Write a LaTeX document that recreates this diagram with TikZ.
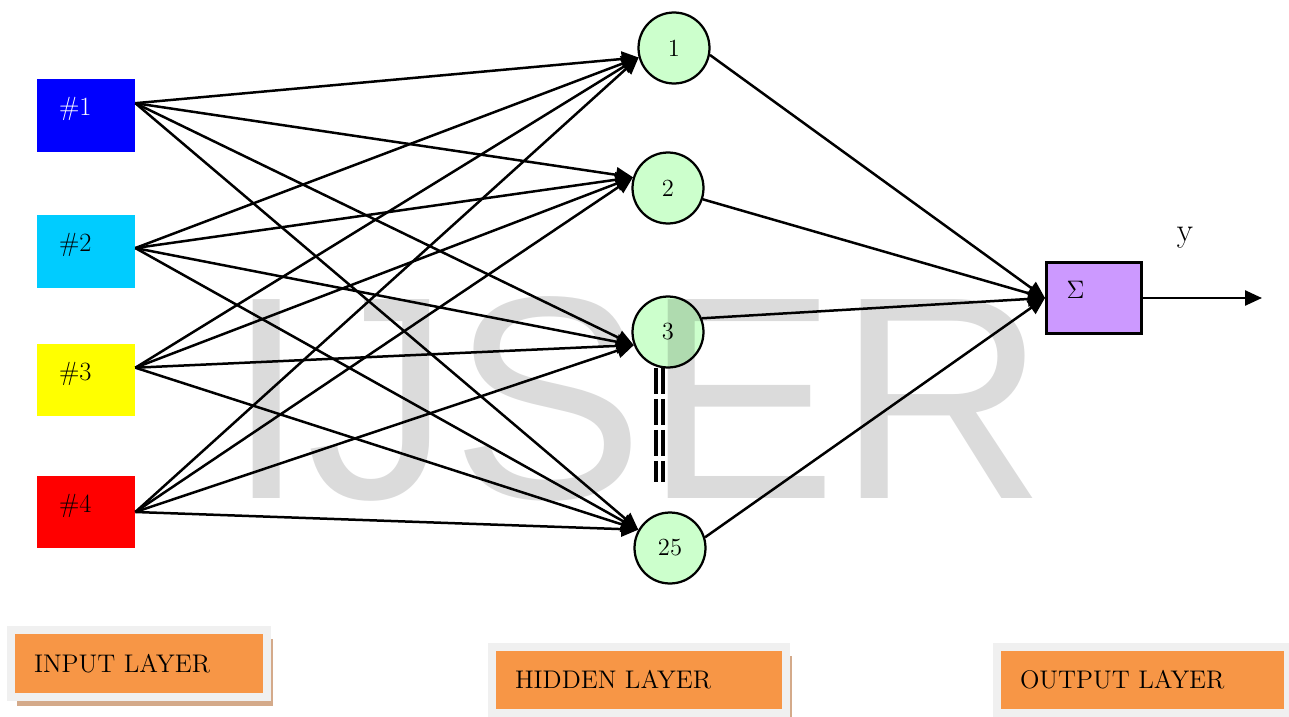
\documentclass[tikz,border=0pt]{standalone}
\usepackage{fontspec}
\newfontfamily\wmfont{Liberation Sans}
\usetikzlibrary{arrows.meta,shadows}
\definecolor{inblue}{HTML}{0000FF}
\definecolor{incyan}{HTML}{00CCFF}
\definecolor{inyellow}{HTML}{FFFF00}
\definecolor{inred}{HTML}{FF0000}
\definecolor{hidgreen}{HTML}{CCFFCC}
\definecolor{sumviolet}{HTML}{CC99FF}
\definecolor{lyorange}{HTML}{F79646}
\definecolor{lyframe}{HTML}{F0F0F0}
\definecolor{lyshadow}{HTML}{D4AA8A}

\begin{document}
\begin{tikzpicture}[x=0.02cm, y=-0.02cm,
    >={Triangle[length=0.34cm,width=0.3cm]},
    conn/.style={->,line width=0.05cm},
    inbox/.style={rectangle,minimum width=1.96cm,minimum height=1.46cm,
                  inner xsep=0.44cm,text width=1.08cm,align=left,
                  text height=0pt,text depth=0pt,font=\fontsize{15}{17}\selectfont},
    hid/.style={circle,draw,line width=0.045cm,fill=hidgreen,minimum size=1.42cm,
                inner sep=0pt,font=\fontsize{14}{16}\selectfont},
    sumbox/.style={rectangle,draw,line width=0.06cm,fill=sumviolet,
                   minimum width=1.9cm,minimum height=1.42cm,inner xsep=0.4cm,
                   text width=1.1cm,align=left,text height=0pt,text depth=0pt,
                   font=\fontsize{15}{17}\selectfont},
    layerbox/.style={rectangle,fill=lyorange,draw=lyframe,line width=0.16cm,
                     inner xsep=0.46cm,align=left,font=\fontsize{14.5}{16}\selectfont,
                     drop shadow={shadow xshift=0.12cm,shadow yshift=-0.18cm,
                                  fill=lyshadow,opacity=1}},
    gap/.style={line width=0.065cm,dash pattern=on 0.52cm off 0.1cm}]

  \clip (0,0) rectangle (1289,717);

  % ---------------- input layer
  \node[inbox,fill=inblue,text=white] (in1) at (86,115.5) {\#1};
  \node[inbox,fill=incyan]            (in2) at (86,251.5) {\#2};
  \node[inbox,fill=inyellow]          (in3) at (86,380)   {\#3};
  \node[inbox,fill=inred]             (in4) at (86,512)   {\#4};

  % ---------------- hidden layer
  \node[hid] (h1)  at (674,48)  {1};
  \node[hid] (h2)  at (668,188) {2};
  \node[hid] (h3)  at (668,332) {3};
  \node[hid] (h25) at (670,548) {25};

  \draw[gap] (656,368) -- (656,482);
  \draw[gap] (663,368) -- (663,482);

  % ---------------- output layer
  \node[sumbox] (sum) at (1094,298) {$\Sigma$};
  \node[font=\fontsize{19}{21}\selectfont] (ylab) at (1185,238) {y};
  \coordinate (yout) at (1262,298);

  % ---------------- connections
  \foreach \s/\sa in {in1/14,in2/4,in3/14,in4/0}
    \foreach \t/\ta in {h1/195,h2/163,h3/201,h25/150}
      \draw[conn] (\s.\sa) -- (\t.\ta);
  \foreach \h/\ha in {h1/349,h2/342,h3/22,h25/17}
    \draw[conn] (\h.\ha) -- (sum.west);
  \draw[conn] (sum.east) -- (yout);

  % ---------------- layer captions
  \node[layerbox,minimum width=5.12cm,minimum height=1.34cm,text width=4.2cm]
       (inlayer) at (139,663.5) {INPUT LAYER};
  \node[layerbox,minimum width=5.88cm,minimum height=1.32cm,text width=4.96cm]
       (hidlayer) at (639,680) {HIDDEN LAYER};
  \node[layerbox,minimum width=5.82cm,minimum height=1.32cm,text width=4.9cm]
       (outlayer) at (1142.5,680) {OUTPUT LAYER};

  % ---------------- watermark
  \node[anchor=base west,inner sep=0pt,text=black,text opacity=0.14,
        font=\wmfont\fontsize{164.6}{165}\selectfont] (wmark) at (226,498) {IJSER};
\end{tikzpicture}
\end{document}
